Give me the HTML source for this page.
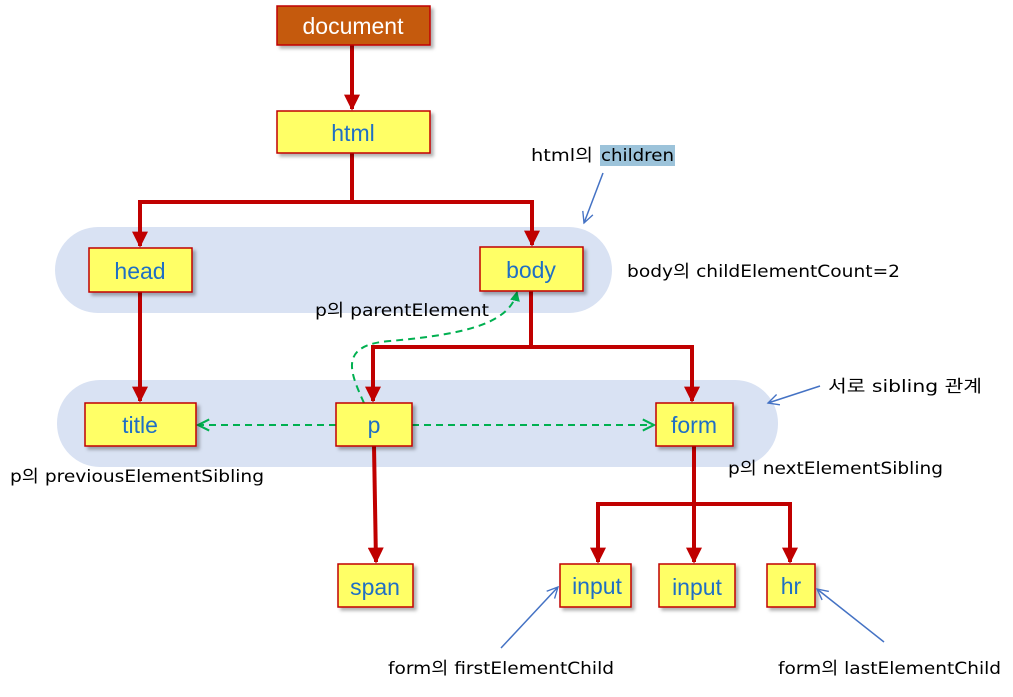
<!DOCTYPE html>
<html><head><meta charset="utf-8"><style>
html,body{margin:0;padding:0;background:#fff;}
svg{display:block;}
.n{font-family:"Liberation Sans",sans-serif;font-size:23px;fill:#1f6fc5;text-anchor:middle;}
.l{font-family:"DejaVu Sans","Noto Sans CJK KR",sans-serif;font-size:17px;fill:#000;}
</style></head><body>
<svg width="1013" height="697" viewBox="0 0 1013 697" xmlns="http://www.w3.org/2000/svg">
<defs>
<marker id="ra" viewBox="0 0 10 10" refX="9" refY="5" markerWidth="4" markerHeight="4" orient="auto"><path d="M0,0 L10,5 L0,10 z" fill="#c00000"/></marker>
<marker id="ga" viewBox="0 0 10 10" refX="9" refY="5" markerWidth="7" markerHeight="7" orient="auto"><path d="M1,1 L9,5 L1,9" fill="none" stroke="#00b050" stroke-width="1.5"/></marker>
<marker id="gf" viewBox="0 0 10 10" refX="9" refY="5" markerWidth="5" markerHeight="5" orient="auto"><path d="M0,0 L10,5 L0,10 z" fill="#00b050"/></marker>
<marker id="ba" viewBox="0 0 10 10" refX="9" refY="5" markerWidth="9" markerHeight="9" orient="auto"><path d="M1,1 L9,5 L1,9" fill="none" stroke="#4472c4" stroke-width="1"/></marker>
<filter id="sh" x="-10%" y="-10%" width="130%" height="130%"><feDropShadow dx="3" dy="3" stdDeviation="1.5" flood-color="#000" flood-opacity="0.3"/></filter>
</defs>
<rect x="55" y="227" width="557" height="86" rx="43" fill="#d9e2f3"/>
<rect x="57" y="380" width="721" height="87" rx="43" fill="#d9e2f3"/>
<g stroke="#c00000" stroke-width="4" fill="none">
<path d="M352,45 V109" marker-end="url(#ra)"/>
<path d="M352,153 V202 H140 V246" marker-end="url(#ra)"/>
<path d="M352,202 H532 V245" marker-end="url(#ra)"/>
<path d="M140,292 V401" marker-end="url(#ra)"/>
<path d="M531,291 V347 H373 V401" marker-end="url(#ra)"/>
<path d="M531,347 H692 V401" marker-end="url(#ra)"/>
<path d="M374,446 L376,562" marker-end="url(#ra)"/>
<path d="M694,446 V504 H598 V562" marker-end="url(#ra)"/>
<path d="M694,504 V562" marker-end="url(#ra)"/>
<path d="M694,504 H790 V562" marker-end="url(#ra)"/>
</g>
<g stroke="#00b050" stroke-width="2" fill="none" stroke-dasharray="7,5">
<path d="M336,425 H198" marker-end="url(#ga)"/>
<path d="M412,425 H654" marker-end="url(#ga)"/>
<path d="M364,403 C350,372 338,345 390,341 C470,334 510,322 517,292" marker-end="url(#gf)"/>
</g>
<g filter="url(#sh)" stroke="#c00000" stroke-width="1.5">
<rect x="277" y="6" width="153" height="39" fill="#c55a11"/>
<rect x="277" y="111" width="153" height="42" fill="#ffff66"/>
<rect x="89" y="248" width="103" height="44" fill="#ffff66"/>
<rect x="480" y="247" width="103" height="44" fill="#ffff66"/>
<rect x="85" y="403" width="111" height="43" fill="#ffff66"/>
<rect x="336" y="403" width="76" height="43" fill="#ffff66"/>
<rect x="656" y="403" width="77" height="43" fill="#ffff66"/>
<rect x="338" y="564" width="75" height="43" fill="#ffff66"/>
<rect x="560" y="564" width="71" height="43" fill="#ffff66"/>
<rect x="659" y="564" width="76" height="43" fill="#ffff66"/>
<rect x="767" y="564" width="48" height="43" fill="#ffff66"/>
</g>
<text x="353" y="34" class="n" style="fill:#fff">document</text>
<text x="353" y="141" class="n">html</text>
<text x="140" y="279" class="n">head</text>
<text x="531" y="278" class="n">body</text>
<text x="140" y="433" class="n">title</text>
<text x="374" y="433" class="n">p</text>
<text x="694" y="433" class="n">form</text>
<text x="375" y="595" class="n">span</text>
<text x="597" y="594" class="n">input</text>
<text x="697" y="595" class="n">input</text>
<text x="791" y="594" class="n">hr</text>
<rect x="600" y="145" width="75" height="21" fill="#9cc3da"/>
<g stroke="#4472c4" stroke-width="1.5" fill="none">
<path d="M603,173 L584,223" marker-end="url(#ba)"/>
<path d="M820,386 L768,403" marker-end="url(#ba)"/>
<path d="M501,648 L558,587" marker-end="url(#ba)"/>
<path d="M884,642 L817,589" marker-end="url(#ba)"/>
</g>
<text x="531" y="161" class="l" textLength="62" lengthAdjust="spacingAndGlyphs">html의</text>
<text x="601" y="161" class="l" textLength="73" lengthAdjust="spacingAndGlyphs">children</text>
<text x="627" y="277" class="l" textLength="273" lengthAdjust="spacingAndGlyphs">body의 childElementCount=2</text>
<text x="315" y="316" class="l" textLength="174" lengthAdjust="spacingAndGlyphs">p의 parentElement</text>
<text x="828" y="392" class="l" textLength="154" lengthAdjust="spacingAndGlyphs">서로 sibling 관계</text>
<text x="10" y="482" class="l" textLength="254" lengthAdjust="spacingAndGlyphs">p의 previousElementSibling</text>
<text x="728" y="474" class="l" textLength="215" lengthAdjust="spacingAndGlyphs">p의 nextElementSibling</text>
<text x="388" y="674" class="l" textLength="226" lengthAdjust="spacingAndGlyphs">form의 firstElementChild</text>
<text x="778" y="674" class="l" textLength="223" lengthAdjust="spacingAndGlyphs">form의 lastElementChild</text>
</svg>
</body></html>
